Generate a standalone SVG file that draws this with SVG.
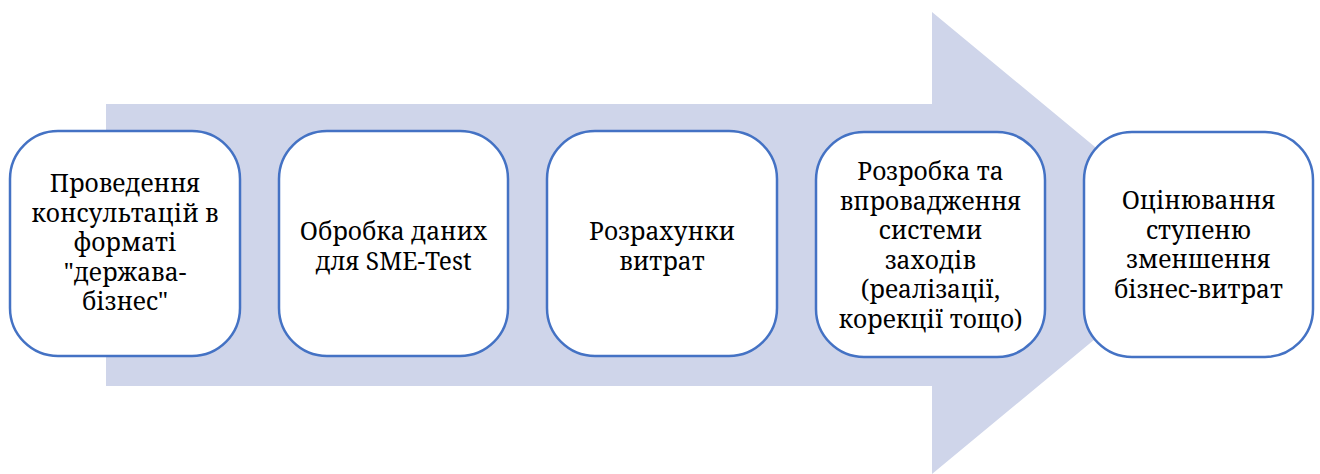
<svg xmlns="http://www.w3.org/2000/svg" width="1320" height="474" viewBox="0 0 1320 474">
<style>
.box{fill:#ffffff;stroke:#4472C4;stroke-width:2.5}
.t{font-family:'Noto Serif','Liberation Serif',serif;font-size:24.5px;fill:#000000;text-anchor:middle}
</style>
<rect width="1320" height="474" fill="#ffffff"/>
<g id="arrow">
<polygon points="106,104 932,104 932,12 1211,243 932,474 932,386 106,386" fill="#CFD5EA"/>
</g>
<g id="connectors"></g>
<g id="node1">
<rect class="box" x="10" y="131" width="230" height="225" rx="48" ry="48"/>
<text class="t" x="125" y="192">Проведення</text>
<text class="t" x="125" y="221.5">консультацій в</text>
<text class="t" x="125" y="251">форматі</text>
<text class="t" x="125" y="280.5">"держава-</text>
<text class="t" x="125" y="310">бізнес"</text>
</g>
<g id="node2">
<rect class="box" x="279" y="131" width="229" height="225" rx="48" ry="48"/>
<text class="t" x="393.5" y="239.5">Обробка даних</text>
<text class="t" x="393.5" y="269.5">для SME-Test</text>
</g>
<g id="node3">
<rect class="box" x="547" y="131" width="230" height="225" rx="48" ry="48"/>
<text class="t" x="662" y="239.5">Розрахунки</text>
<text class="t" x="662" y="269.5">витрат</text>
</g>
<g id="node4">
<rect class="box" x="816" y="132" width="229" height="225" rx="48" ry="48"/>
<text class="t" x="930.5" y="180">Розробка та</text>
<text class="t" x="930.5" y="209.5">впровадження</text>
<text class="t" x="930.5" y="239">системи</text>
<text class="t" x="930.5" y="268.5">заходів</text>
<text class="t" x="930.5" y="298">(реалізації,</text>
<text class="t" x="930.5" y="327.5">корекції тощо)</text>
</g>
<g id="node5">
<rect class="box" x="1084" y="132" width="229" height="225" rx="48" ry="48"/>
<text class="t" x="1198.5" y="209">Оцінювання</text>
<text class="t" x="1198.5" y="238.5">ступеню</text>
<text class="t" x="1198.5" y="268">зменшення</text>
<text class="t" x="1198.5" y="297.5">бізнес-витрат</text>
</g>
</svg>
